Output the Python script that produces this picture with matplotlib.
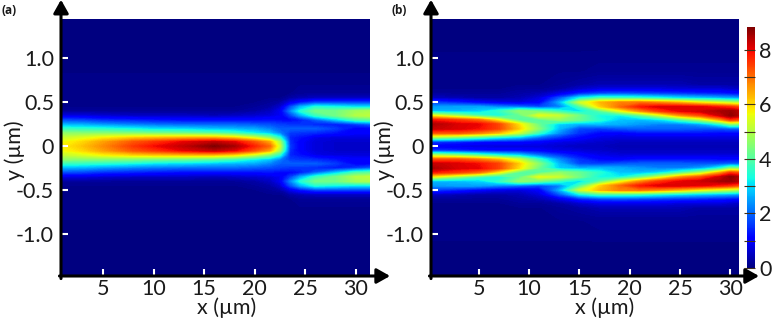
from matplotlib import pyplot as plt
from matplotlib.cm import ScalarMappable
from matplotlib.colors import Normalize
import numpy as np

plt.rcParams['font.family'] = ['Lato', 'DejaVu Sans']

fontsize = 15.5
vmax = 8.83

x_ticks = [5, 10, 15, 20, 25, 30]
y_ticks = [-1.0, -0.5, 0, 0.5, 1.0]
y_tick_labels = ['-1.0', '-0.5', '0', '0.5', '1.0']
bar_ticks = [0, 1, 2, 3, 4, 5, 6, 7, 8]
bar_tick_labels = ['0', '', '2', '', '4', '', '6', '', '8']

# upper half of each map, the lower half is nearly its mirror
a_y = [0, .05, .1, .15, .2, .25, .3, .35, .4, .45, .5, .55, .6, .7, .85, 1.1, 1.47]
a_x = [0.2, 3, 5, 8, 10, 13, 16, 18, 20, 21.5, 22.5, 23.5, 24.5, 26, 28, 30, 31.5]
a_rows = [
    [5.6, 6.2, 6.7, 7.5, 7.9, 8.3, 8.8, 8.5, 7.7, 7.0, 5.2, 1.6, 1.0, 0.7, 0.6, 0.6, 0.6],
    [5.5, 6.0, 6.5, 7.2, 7.5, 8.0, 8.3, 8.0, 7.2, 6.4, 4.8, 1.5, 1.0, 0.7, 0.6, 0.6, 0.6],
    [5.1, 5.4, 5.7, 6.0, 6.1, 6.2, 6.2, 5.9, 5.2, 4.4, 3.4, 1.4, 1.2, 0.8, 0.7, 0.7, 0.7],
    [4.6, 4.5, 4.5, 4.4, 4.3, 4.2, 4.0, 3.7, 3.2, 2.8, 2.2, 1.6, 1.5, 1.4, 1.2, 1.0, 1.0],
    [3.6, 3.5, 3.4, 3.2, 3.0, 2.9, 2.7, 2.6, 2.5, 2.2, 1.9, 1.9, 1.9, 1.9, 1.6, 1.0, 1.0],
    [2.6, 2.5, 2.3, 2.1, 2.0, 1.9, 1.9, 1.9, 1.8, 1.7, 1.6, 1.5, 1.5, 1.4, 1.3, 1.6, 1.9],
    [1.7, 1.6, 1.4, 1.3, 1.2, 1.1, 1.1, 1.1, 1.1, 1.2, 1.1, 1.1, 1.3, 1.9, 2.8, 3.8, 4.0],
    [0.7, 0.7, 0.6, 0.5, 0.5, 0.5, 0.4, 0.5, 0.6, 0.7, 0.9, 1.6, 2.5, 3.6, 4.3, 5.0, 5.1],
    [0.2, 0.2, 0.2, 0.2, 0.2, 0.2, 0.2, 0.2, 0.3, 0.5, 0.9, 2.2, 3.4, 4.3, 4.3, 4.8, 4.9],
    [0.1, 0.1, 0.1, 0.1, 0.1, 0.1, 0.1, 0.1, 0.2, 0.3, 0.6, 1.7, 2.6, 3.4, 3.2, 3.0, 3.0],
    [0.1, 0.1, 0.1, 0.1, 0.1, 0.1, 0.1, 0.1, 0.1, 0.2, 0.3, 0.8, 1.2, 1.6, 1.6, 1.6, 1.6],
    [0.1, 0.1, 0.1, 0.1, 0.1, 0.1, 0.1, 0.1, 0.1, 0.1, 0.1, 0.3, 0.4, 0.5, 0.5, 0.5, 0.5],
    [0.1, 0.1, 0.1, 0.1, 0.1, 0.1, 0.1, 0.1, 0.1, 0.1, 0.1, 0.1, 0.2, 0.2, 0.2, 0.2, 0.2],
    [0.1] * 17,
    [0.05] * 17,
    [0.05] * 17,
    [0.05] * 17,
]

b_y = [0, .05, .1, .15, .2, .25, .3, .35, .4, .45, .5, .55, .6, .65, .7, .85, 1.1, 1.47]
b_x = [0.2, 3, 5, 7, 9, 11, 13, 15, 17, 19, 21, 23, 25, 27, 29, 30, 31.5]
# one list per x position here, bottom row first
b_columns = [
    [.9, 1.6, 4.8, 7.2, 8.3, 8.5, 7.8, 5.6, 2.7, 2.4, 1.6, .5, .2, .1, .1, .1, .05, .05],
    [.8, 1.4, 4.3, 7.2, 8.1, 8.1, 7.4, 4.6, 2.7, 2.5, 1.3, .4, .2, .1, .1, .1, .05, .05],
    [.7, 1.2, 3.8, 6.8, 7.9, 8.0, 6.9, 3.8, 2.9, 2.5, 1.0, .3, .2, .1, .1, .1, .05, .05],
    [.7, 1.1, 3.2, 6.2, 7.4, 7.4, 5.6, 3.3, 3.6, 2.2, .8, .3, .2, .1, .1, .1, .05, .05],
    [.7, 1.1, 2.8, 5.2, 6.1, 5.9, 4.0, 4.1, 4.6, 2.0, .7, .4, .3, .2, .1, .1, .05, .05],
    [.7, 1.0, 2.0, 3.6, 4.5, 4.2, 4.0, 5.5, 4.2, 1.7, 1.0, .7, .4, .2, .1, .1, .05, .05],
    [.6, .8, 1.5, 2.3, 2.7, 2.9, 4.6, 5.2, 3.6, 2.2, 2.6, 1.8, .8, .3, .2, .1, .05, .05],
    [.5, .7, 1.1, 1.5, 1.7, 2.6, 4.2, 4.3, 3.0, 3.8, 5.2, 3.2, 1.4, .6, .3, .1, .05, .05],
    [.5, .6, .8, 1.1, 1.6, 2.7, 3.5, 3.3, 4.0, 6.0, 6.3, 3.8, 1.7, .8, .4, .15, .05, .05],
    [.4, .5, .7, 1.0, 1.8, 2.6, 2.8, 3.2, 5.4, 7.0, 6.8, 3.7, 1.8, .8, .4, .15, .05, .05],
    [.4, .5, .7, 1.2, 1.9, 2.4, 2.7, 4.0, 6.6, 7.8, 6.9, 3.6, 1.7, .8, .4, .15, .05, .05],
    [.4, .5, .7, 1.2, 1.9, 2.2, 3.0, 5.2, 7.5, 8.1, 6.6, 3.3, 1.6, .8, .4, .15, .05, .05],
    [.4, .5, .7, 1.2, 1.9, 2.2, 3.8, 6.5, 8.0, 8.1, 6.2, 3.0, 1.5, .7, .4, .15, .05, .05],
    [.4, .5, .7, 1.2, 1.8, 2.5, 4.8, 7.2, 8.2, 8.0, 5.6, 2.8, 1.4, .7, .3, .15, .05, .05],
    [.4, .5, .7, 1.1, 1.8, 3.4, 6.4, 8.2, 8.5, 7.7, 5.2, 2.6, 1.3, .7, .3, .15, .05, .05],
    [.4, .5, .7, 1.1, 1.9, 4.4, 7.4, 8.7, 8.6, 7.5, 5.0, 2.5, 1.2, .6, .3, .15, .05, .05],
    [.4, .5, .7, 1.1, 1.9, 4.2, 7.0, 8.2, 8.2, 7.0, 4.7, 2.3, 1.1, .5, .3, .15, .05, .05],
]


def mirror(y, z):
    y = np.array(y)
    z = np.array(z)
    return np.concatenate([-y[:0:-1], y]), np.vstack([z[:0:-1], z])


def draw_panel(ax, x, y, z, xlim, letter, letter_x, xlabel_x):
    yy, zz = mirror(y, z)
    levels = np.linspace(0, vmax, 160)
    ax.set_facecolor('#00007f')
    ax.contourf(x, yy, zz, levels=levels, cmap='jet', vmin=0, vmax=vmax, antialiased=False)
    ax.set_xlim(*xlim)
    ax.set_ylim(-1.48, 1.45)
    ax.set_xticks(x_ticks)
    ax.set_yticks(y_ticks)
    ax.set_yticklabels(y_tick_labels)
    ax.tick_params(direction='in', color='white', length=5, width=1.5,
                   labelsize=fontsize, pad=5, labelcolor='#1a1a1a')
    ax.tick_params(axis='x', pad=2)
    for side in ['top', 'right', 'left', 'bottom']:
        ax.spines[side].set_visible(False)

    # the thick axes end in arrowheads outside the map
    ax.annotate('', xy=(0, 1.075), xytext=(0, -0.01), xycoords='axes fraction',
                annotation_clip=False,
                arrowprops=dict(arrowstyle='-|>,head_width=0.45,head_length=0.8',
                                color='black', lw=2.2, shrinkA=0, shrinkB=0))
    ax.annotate('', xy=(1.065, 0), xytext=(-0.005, 0), xycoords='axes fraction',
                annotation_clip=False,
                arrowprops=dict(arrowstyle='-|>,head_width=0.45,head_length=0.8',
                                color='black', lw=2.2, shrinkA=0, shrinkB=0))

    ax.set_xlabel('x (µm)', fontsize=fontsize, color='#1a1a1a', va='center')
    ax.xaxis.set_label_coords(xlabel_x, -0.122)
    ax.set_ylabel('y (µm)', fontsize=fontsize, color='#1a1a1a')
    ax.yaxis.set_label_coords(-0.118, 0.49)
    fig.text(letter_x / 777, 1 - 11 / 318, letter, fontsize=8.5, fontweight='bold',
             family=['Open Sans', 'DejaVu Sans'], va='center', color='#1a1a1a')


fig = plt.figure(figsize=(7.77, 3.18), dpi=100)
ax_a = fig.add_axes([61 / 777, 42 / 318, 309 / 777, 257 / 318])
ax_b = fig.add_axes([431 / 777, 42 / 318, 308 / 777, 257 / 318])

draw_panel(ax_a, a_x, a_y, a_rows, (0.84, 31.4), '(a)', 2, 0.537)
draw_panel(ax_b, b_x, b_y, np.array(b_columns).T, (0.25, 30.85), '(b)', 392, 0.565)

cax = fig.add_axes([747 / 777, 50 / 318, 8 / 777, 241 / 318])
bar = fig.colorbar(ScalarMappable(Normalize(0, vmax), 'jet'), cax=cax)
bar.outline.set_visible(False)
bar.set_ticks(bar_ticks)
bar.set_ticklabels(bar_tick_labels)
bar.ax.tick_params(direction='in', length=8, width=0.8, color='#40301a',
                   labelsize=fontsize, pad=3, labelcolor='#1a1a1a')
bar.ax.minorticks_off()

plt.savefig('out.png', dpi=100)
